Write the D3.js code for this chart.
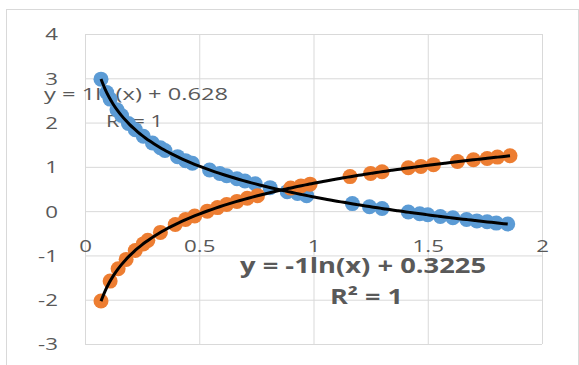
<!DOCTYPE html>
<html>
<head>
<meta charset="utf-8">
<script src="https://cdn.jsdelivr.net/npm/d3@7"></script>
<style>
  body { margin: 0; background: #fff; }
  svg { display: block; font-family: "Open Sans", sans-serif; }
</style>
</head>
<body>
<div id="chart"></div>
<script>
// values
const blueX = [0.07, 0.095, 0.11, 0.14, 0.16, 0.19, 0.22, 0.255, 0.295, 0.33, 0.35, 0.405, 0.44, 0.47,
  0.545, 0.59, 0.62, 0.665, 0.70, 0.745, 0.81, 0.885, 0.93, 0.97, 1.17, 1.245, 1.30, 1.415, 1.465,
  1.50, 1.555, 1.61, 1.67, 1.715, 1.76, 1.80, 1.85];
const blueY = [2.98, 2.68, 2.53, 2.29, 2.16, 1.98, 1.84, 1.69, 1.54, 1.43, 1.37, 1.23, 1.14, 1.08,
  0.93, 0.85, 0.80, 0.73, 0.68, 0.62, 0.53, 0.44, 0.40, 0.35, 0.17, 0.10, 0.06, -0.02, -0.06,
  -0.08, -0.12, -0.15, -0.19, -0.22, -0.24, -0.27, -0.29];
const orangeX = [0.07, 0.11, 0.145, 0.18, 0.22, 0.255, 0.275, 0.33, 0.395, 0.44, 0.48, 0.535, 0.58,
  0.62, 0.665, 0.71, 0.755, 0.9, 0.945, 0.985, 1.16, 1.25, 1.3, 1.415, 1.47, 1.525, 1.63, 1.7,
  1.76, 1.805, 1.86];
const orangeY = [-2.03, -1.58, -1.30, -1.09, -0.89, -0.74, -0.66, -0.48, -0.30, -0.19, -0.11, 0.00,
  0.08, 0.15, 0.22, 0.29, 0.35, 0.52, 0.57, 0.61, 0.78, 0.85, 0.89, 0.98, 1.01, 1.05, 1.12, 1.16,
  1.19, 1.22, 1.25];
const xTicks = [0, 0.5, 1, 1.5, 2];
const yTicks = [-3, -2, -1, 0, 1, 2, 3, 4];
const blueLabel = ["y = -1ln(x) + 0.3225", "R² = 1"];
const orangeLabel = ["y = 1ln(x) + 0.628", "R² = 1"];

const W = 579, H = 365;
const gray = "#595959", grid = "#d9d9d9";
const sx = 1.35; // text in the picture is stretched sideways

const svg = d3.select("#chart").append("svg").attr("width", W).attr("height", H);

// chart frame
svg.append("rect").attr("x", 6.5).attr("y", 9.5).attr("width", 572).attr("height", 380)
  .attr("fill", "#fff").attr("stroke", grid);

const x = d3.scaleLinear().domain([0, 2]).range([85, 542]);
const y = d3.scaleLinear().domain([-3, 4]).range([344, 34]);

// horizontal grid + y labels (plain hyphen minus, like Excel)
const gy = svg.append("g").attr("transform", "translate(85,0)")
  .call(d3.axisLeft(y).tickValues(yTicks).tickSize(-(542 - 85)).tickPadding(0).tickFormat(d => String(d)));
gy.select(".domain").remove();
gy.selectAll("line").attr("stroke", grid);
gy.selectAll("text").attr("x", 0).attr("dy", "0.36em")
  .attr("transform", "translate(-27,0) scale(" + sx + ",1)")
  .attr("fill", gray).style("font-size", "16.5px").style("font-family", "Open Sans");

// vertical grid
const gx = svg.append("g").attr("transform", "translate(0,344)")
  .call(d3.axisBottom(x).tickValues(xTicks).tickSize(-(344 - 34)).tickFormat(""));
gx.select(".domain").remove();
gx.selectAll("line").attr("stroke", grid);

// x labels, axis crosses at y = 0
const gxl = svg.append("g").attr("transform", "translate(0," + y(0) + ")")
  .call(d3.axisBottom(x).tickValues(xTicks).tickSize(0).tickPadding(0).tickFormat(d => String(d)));
gxl.select(".domain").remove();
gxl.selectAll("text").attr("y", 0).attr("dy", 0)
  .attr("transform", "translate(0,41) scale(" + sx + ",1)")
  .attr("fill", gray).style("font-size", "16.5px").style("font-family", "Open Sans");

// trendline labels (under the dots)
function label(lines, x0, y0, widths, size, weight, gap) {
  lines.forEach((t, i) => {
    svg.append("text").attr("x", x0[i]).attr("y", y0 + i * gap)
      .attr("textLength", widths[i]).attr("lengthAdjust", "spacingAndGlyphs")
      .attr("fill", gray).style("font-size", size + "px").style("font-weight", weight)
      .text(t);
  });
}
label(orangeLabel, [44, 106], 100, [184, 57], 16.5, "normal", 27);
label(blueLabel, [240, 330], 273, [246, 73], 21, "bold", 31);

// dots
function dots(xs, ys, color) {
  svg.append("g").selectAll("circle").data(xs).join("circle")
    .attr("cx", d => x(d)).attr("cy", (d, i) => y(ys[i])).attr("r", 7.5)
    .attr("fill", color);
}
dots(blueX, blueY, "#5b9bd5");
dots(orangeX, orangeY, "#ed7d31");

// logarithmic trendlines fitted from the points
function logFit(xs, ys) {
  const lx = xs.map(Math.log);
  const mx = d3.mean(lx), my = d3.mean(ys);
  const b = d3.sum(lx, (v, i) => (v - mx) * (ys[i] - my)) / d3.sum(lx, v => (v - mx) * (v - mx));
  return { b: b, a: my - b * mx };
}
const line = d3.line().x(d => x(d[0])).y(d => y(d[1])).curve(d3.curveMonotoneX);
[[blueX, blueY], [orangeX, orangeY]].forEach(([xs, ys]) => {
  const f = logFit(xs, ys);
  const [lo, hi] = d3.extent(xs);
  const pts = d3.range(0, 101).map(k => {
    const xv = lo + (hi - lo) * k / 100;
    return [xv, f.a + f.b * Math.log(xv)];
  });
  svg.append("path").datum(pts).attr("d", line)
    .attr("fill", "none").attr("stroke", "#000").attr("stroke-width", 3);
});
</script>
</body>
</html>
